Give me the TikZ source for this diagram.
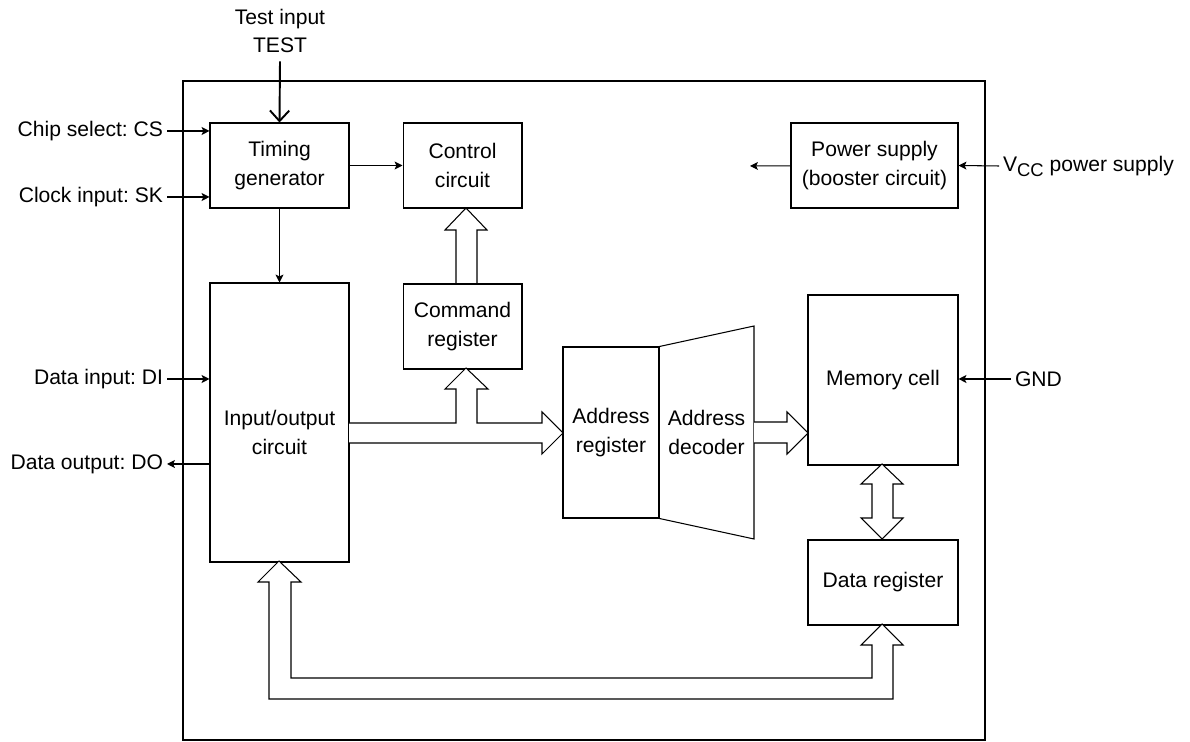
\documentclass[tikz,border=0pt]{standalone}
\usepackage{fontspec}
\setmainfont{Liberation Sans}
\usetikzlibrary{arrows.meta}
\usetikzlibrary{positioning}
\frenchspacing

\begin{document}
\begin{tikzpicture}[x=0.02cm,y=-0.02cm,->,>={Stealth[length=4.5pt,width=4.5pt,inset=1pt]},
		line width=0.6pt,font=\fontsize{12pt}{16pt}\selectfont]
		\tikzstyle{block}=[draw,-,align=center,inner sep=0pt]
		\tikzstyle{fat}=[draw,-,fill=white,line join=miter]
		\tikzstyle{pin}=[inner sep=2pt]

		\useasboundingbox (0,0) rectangle (1190,742);
		\draw[-,line width=1.4pt] (183,81) rectangle (985,740);

		% blocks
		\node[block,minimum width=2.78cm,minimum height=1.7cm] (tim) at (279.5,165.5) {Timing\\generator};
		\node[block,minimum width=2.38cm,minimum height=1.7cm] (ctrl) [right=1.06cm of tim] {Control\\circuit};
		\node[block,minimum width=2.38cm,minimum height=1.7cm] (cmd) [below=1.5cm of ctrl] {Command\\register};
		\node[block,minimum width=2.78cm,minimum height=5.58cm,
			label={[align=center,yshift=-0.2cm]center:Input/output\\circuit}] (io) [below=1.48cm of tim] {};
		\node[block,minimum width=3.34cm,minimum height=1.7cm] (pow) at (874.5,165.5) {Power supply\\(booster circuit)};
		\node[block,minimum width=1.92cm,minimum height=3.42cm] (areg) at (611,432.5) {Address\\register};
		\node[align=center,inner sep=0pt] (dec) at (706.5,432.5) {Address\\decoder};
		\node[block,minimum width=3cm,minimum height=3.4cm] (mem) at (883,380) {Memory cell};
		\node[block,minimum width=3cm,minimum height=1.7cm] (dreg) [below=1.48cm of mem] {Data register};
		\draw[-] (areg.north east) -- (754,326) -- (754,539) -- (areg.south east);

		% pins
		\node[align=center,inner sep=0pt] (test) at (280,31) {Test input\\TEST};
		\node[pin,anchor=east] (cs) at (167,131) {Chip select: CS};
		\node[pin,anchor=east] (sk) at (167,197) {Clock input: SK};
		\node[pin,anchor=east] (di) at (167,379) {Data input: DI};
		\node[pin,anchor=east] (do) at (167,464) {Data output: DO};
		\node[pin,anchor=west] (vcc) at (999,166) {V\raisebox{-0.45ex}{\fontsize{10.5pt}{10.5pt}\selectfont CC} power supply};
		\node[pin,anchor=west] (gnd) at (1011,379) {GND};
		\coordinate (vout) at (750,166);

		\draw[-{Straight Barb[length=6pt,width=11pt]},line width=1.1pt] (test.south) ++(0,8) -- (tim.north);
		\draw (cs.east) -- (tim.west |- cs.east);
		\draw (sk.east) -- (tim.west |- sk.east);
		\draw (di.east) -- (io.west |- di.east);
		\draw (io.west |- do.east) -- (do.east);
		\draw (tim) -- (ctrl);
		\draw (tim) -- (io);
		\draw (pow) -- (vout);
		\draw (vcc.west) -- (pow.east);
		\draw (gnd.west) -- (mem.east |- gnd.west);

		% buses
		\draw[fat] (456,283) -- (456,230) -- (445,230) -- (466,208) -- (487,230) -- (477,230) -- (477,283);
		\draw[fat] (349,423) -- (456,423) -- (456,389) -- (445,389) -- (466,368) -- (488,389) -- (477,389)
			-- (477,423) -- (542,423) -- (542,412) -- (563,433) -- (542,454) -- (542,443) -- (349,443);
		\draw[fat] (754,422) -- (787,422) -- (787,412) -- (808,433) -- (787,454) -- (787,443) -- (754,443);
		\draw[fat] (872,484) -- (861,484) -- (882,464) -- (903,484) -- (893,484) -- (893,518) -- (903,518)
			-- (882,539) -- (861,518) -- (872,518) -- cycle;
		\draw[fat] (269,582) -- (258,582) -- (279,561) -- (301,582) -- (291,582) -- (291,678) -- (872,678)
			-- (872,645) -- (861,645) -- (882,624) -- (903,645) -- (893,645) -- (893,699) -- (269,699) -- cycle;
\end{tikzpicture}
\end{document}
